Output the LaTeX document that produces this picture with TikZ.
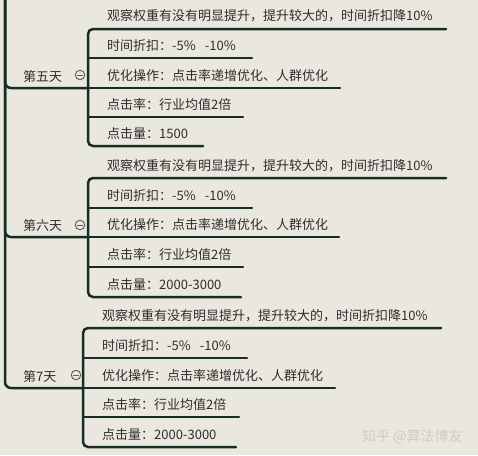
\documentclass[tikz,border=0pt]{standalone}
\usepackage{fontspec}
\setmainfont{Noto Sans CJK SC}
\definecolor{bgc}{RGB}{234,231,223}
\definecolor{linec}{RGB}{22,44,36}
\definecolor{txtc}{RGB}{45,45,45}
\definecolor{iconc}{RGB}{95,95,95}
\definecolor{wmc}{RGB}{206,204,198}
\tikzset{
  conn/.style={draw=linec, line width=2.5pt, line cap=round},
  lbl/.style={anchor=base west, inner sep=0pt, text=txtc, font=\fontsize{13}{15}\selectfont},
  collapse/.style={circle, draw=iconc, line width=0.9pt, fill=bgc, minimum size=9.5pt, inner sep=0pt},
}
\newcommand{\minusin}[1]{\draw[iconc, line width=0.9pt] ([xshift=-2.6pt]#1.center) -- ([xshift=2.6pt]#1.center);}
\begin{document}
\begin{tikzpicture}[x=1pt,y=-1pt]
\fill[bgc] (0,0) rectangle (478,455);
\useasboundingbox (0,0) rectangle (478,455);
\coordinate (trunk) at (5,-6);

% ---------- Section 1: 第五天 ----------
\coordinate (b1) at (88,88);
\coordinate (s1c1) at (446,29);
\coordinate (s1c2) at (252,58);
\coordinate (s1c3) at (340,88);
\coordinate (s1c4) at (243,117);
\coordinate (s1c5) at (203,146);
\draw[conn, rounded corners=6] (trunk) |- (b1);
\draw[conn, rounded corners=5] (s1c1) -- (88,29) -- (88,146) -- (s1c5);
\draw[conn] (88,58) -- (s1c2);
\draw[conn] (b1) -- (s1c3);
\draw[conn] (88,117) -- (s1c4);
\node[lbl] (d1) at (23,81) {第五天};
\node[collapse] (i1) at (80,75) {};
\minusin{i1}
\node[lbl] (s1t1) at (107,20.5) {观察权重有没有明显提升，提升较大的，时间折扣降10\%};
\node[lbl] (s1t2) at (107,50) {时间折扣：-5\%\hspace{9pt}-10\%};
\node[lbl] (s1t3) at (107,80) {优化操作：点击率递增优化、人群优化};
\node[lbl] (s1t4) at (107,109) {点击率：行业均值2倍};
\node[lbl] (s1t5) at (107,138) {点击量：1500};

% ---------- Section 2: 第六天 ----------
\coordinate (b2) at (88,237);
\coordinate (s2c1) at (446,178);
\coordinate (s2c2) at (252,208);
\coordinate (s2c3) at (339,237);
\coordinate (s2c4) at (243,267);
\coordinate (s2c5) at (241,297);
\draw[conn, rounded corners=6] (trunk) |- (b2);
\draw[conn, rounded corners=5] (s2c1) -- (88,178) -- (88,297) -- (s2c5);
\draw[conn] (88,208) -- (s2c2);
\draw[conn] (b2) -- (s2c3);
\draw[conn] (88,267) -- (s2c4);
\node[lbl] (d2) at (23,230) {第六天};
\node[collapse] (i2) at (80,225) {};
\minusin{i2}
\node[lbl] (s2t1) at (107,170) {观察权重有没有明显提升，提升较大的，时间折扣降10\%};
\node[lbl] (s2t2) at (107,200) {时间折扣：-5\%\hspace{9pt}-10\%};
\node[lbl] (s2t3) at (107,229) {优化操作：点击率递增优化、人群优化};
\node[lbl] (s2t4) at (107,259) {点击率：行业均值2倍};
\node[lbl] (s2t5) at (107,289) {点击量：2000-3000};

% ---------- Section 3: 第7天 ----------
\coordinate (b3) at (83,388);
\coordinate (s3c1) at (441,328);
\coordinate (s3c2) at (247,358);
\coordinate (s3c3) at (335,388);
\coordinate (s3c4) at (239,417);
\coordinate (s3c5) at (236,447);
\draw[conn, rounded corners=6] (trunk) |- (b3);
\draw[conn, rounded corners=5] (s3c1) -- (83,328) -- (83,447) -- (s3c5);
\draw[conn] (83,358) -- (s3c2);
\draw[conn] (b3) -- (s3c3);
\draw[conn] (83,417) -- (s3c4);
\node[lbl] (d3) at (23,381) {第7天};
\node[collapse] (i3) at (76,375) {};
\minusin{i3}
\node[lbl] (s3t1) at (102,320) {观察权重有没有明显提升，提升较大的，时间折扣降10\%};
\node[lbl] (s3t2) at (102,350) {时间折扣：-5\%\hspace{9pt}-10\%};
\node[lbl] (s3t3) at (102,380) {优化操作：点击率递增优化、人群优化};
\node[lbl] (s3t4) at (102,409) {点击率：行业均值2倍};
\node[lbl] (s3t5) at (102,439) {点击量：2000-3000};

% watermark
\node[anchor=base west, inner sep=0pt, text=wmc, font=\fontsize{14}{16}\selectfont] (wm) at (362,441) {知乎 @算法博友};
\end{tikzpicture}
\end{document}
